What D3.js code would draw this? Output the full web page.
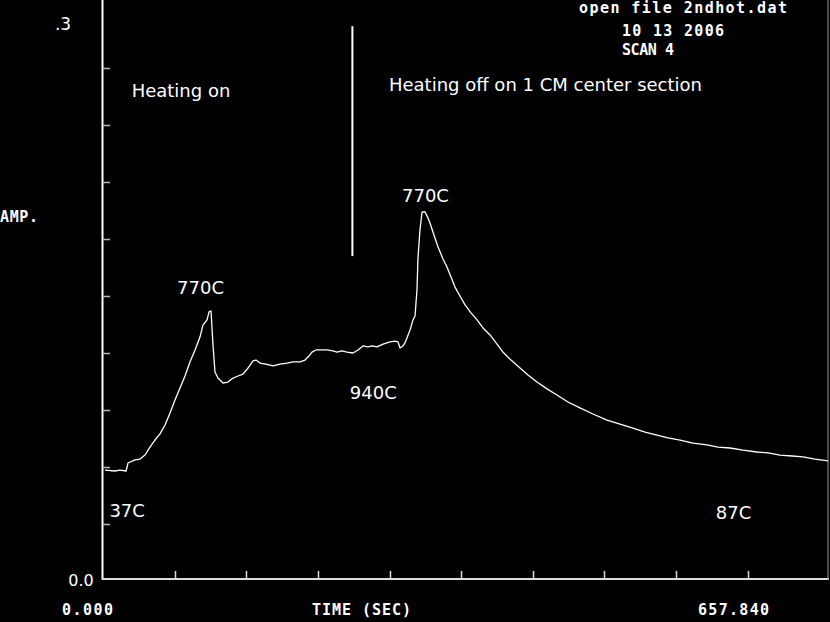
<!DOCTYPE html>
<html><head><meta charset="utf-8">
<script src="https://cdnjs.cloudflare.com/ajax/libs/d3/7.8.5/d3.min.js"></script>
<style>html,body{margin:0;padding:0;background:#000;overflow:hidden}</style>
</head><body>
<svg id="c" width="830" height="622"></svg>
<script>
// time (sec) and amplitude
const times = [1.8,10.9,15.4,20.9,22.7,29.0,33.6,38.1,42.6,47.2,51.7,56.3,60.8,65.3,69.9,74.4,78.9,83.5,88.0,90.7,94.4,96.2,98.0,99.8,101.6,104.3,108.9,113.4,118.0,122.5,127.0,131.6,136.1,138.8,142.5,147.9,154.3,160.6,167.0,172.4,178.8,183.3,186.9,189.6,193.3,196.9,203.3,208.7,212.3,216.9,221.4,226.8,231.4,235.9,240.5,244.1,248.6,254.1,260.4,265.0,267.7,269.5,272.2,274.0,278.6,281.3,283.1,284.9,285.8,287.6,289.5,292.2,294.9,296.7,300.3,304.0,308.5,312.1,315.8,319.4,323.9,328.5,333.9,339.4,344.8,351.2,357.5,362.9,370.2,378.4,385.6,393.8,402.9,411.9,421.9,432.8,444.6,457.3,469.1,480.9,491.8,502.7,512.7,523.6,535.3,548.1,558.0,568.9,580.7,593.4,603.4,614.3,625.2,635.2,646.0,657.8];
const amps = [.0584,.0579,.0584,.0579,.0621,.0637,.0642,.0663,.0705,.0742,.0774,.0821,.0884,.0953,.1016,.1079,.1153,.1216,.1284,.1347,.1374,.1416,.1421,.1242,.1100,.1068,.1042,.1047,.1068,.1079,.1089,.1121,.1158,.1163,.1147,.1142,.1132,.1142,.1147,.1153,.1153,.1163,.1184,.1205,.1216,.1216,.1216,.1211,.1205,.1211,.1205,.1200,.1216,.1237,.1232,.1237,.1232,.1247,.1258,.1263,.1258,.1226,.1237,.1253,.1321,.1374,.1395,.1532,.1700,.1847,.1942,.1942,.1911,.1884,.1821,.1758,.1695,.1653,.1600,.1547,.1500,.1453,.1411,.1374,.1332,.1295,.1247,.1205,.1163,.1121,.1084,.1047,.1011,.0979,.0942,.0911,.0879,.0847,.0826,.0805,.0784,.0768,.0753,.0742,.0726,.0716,.0705,.0700,.0689,.0679,.0674,.0663,.0658,.0653,.0642,.0632];
const xTicks = [65,130,195,260,325,390,455,520,585];
const yTicks = [0.03,0.06,0.09,0.12,0.15,0.18,0.21,0.24,0.27];
const xEndLabels = ["0.000","657.840"];
const yEndLabels = ["0.0",".3"];
const headerLines = ["open file 2ndhot.dat","10 13 2006","SCAN 4"];
const notes = [
  {text:"Heating on", t:26, a:0.2547},
  {text:"Heating off on 1 CM center section", t:259.5, a:0.2579},
  {text:"770C", t:67.2, a:0.1511},
  {text:"770C", t:271.3, a:0.1995},
  {text:"940C", t:224, a:0.0958},
  {text:"37C", t:5.8, a:0.0337},
  {text:"87C", t:556, a:0.0326}
];
const markerTime = 226.3;
const markerAmps = [0.171, 0.292];

const svg = d3.select("#c");
svg.append("rect").attr("width",830).attr("height",622).attr("fill","#000");
const x = d3.scaleLinear().domain([0,657.84]).range([103,828]);
const y = d3.scaleLinear().domain([0,0.3]).range([581,11]);
const mono = "'DejaVu Sans Mono', monospace";
const sans = "'DejaVu Sans', sans-serif";

// axes
svg.append("line").attr("x1",102.5).attr("x2",102.5).attr("y1",0).attr("y2",580).attr("stroke","#fff").attr("stroke-width",2);
svg.append("line").attr("x1",102).attr("x2",829).attr("y1",579).attr("y2",579).attr("stroke","#ddd").attr("stroke-width",2);
svg.append("line").attr("x1",828).attr("x2",828).attr("y1",0).attr("y2",580).attr("stroke","#999").attr("stroke-width",1);
svg.selectAll(".yt").data(yTicks).enter().append("line")
  .attr("x1",103).attr("x2",110).attr("y1",d=>Math.round(y(d))+0.5).attr("y2",d=>Math.round(y(d))+0.5)
  .attr("stroke","#bbb").attr("stroke-width",1.5);
svg.selectAll(".xt").data(xTicks).enter().append("line")
  .attr("x1",d=>Math.round(x(d))+0.5).attr("x2",d=>Math.round(x(d))+0.5).attr("y1",578).attr("y2",571)
  .attr("stroke","#ddd").attr("stroke-width",1.5);

// curve
const pts = times.map((t,i)=>[t,amps[i]]);
svg.append("path").datum(pts)
  .attr("d", d3.line().x(d=>x(d[0])).y(d=>y(d[1])))
  .attr("fill","none").attr("stroke","#fff").attr("stroke-width",1.3).attr("stroke-linejoin","round");

// marker line
svg.append("line").attr("x1",x(markerTime)).attr("x2",x(markerTime))
  .attr("y1",y(markerAmps[1])).attr("y2",y(markerAmps[0])).attr("stroke","#fff").attr("stroke-width",2);

// system text (fixed widths)
function sysText(txt,xx,yy,w){
  svg.append("text").attr("x",xx).attr("y",yy).text(txt)
    .attr("fill","#fff").attr("font-family",mono).attr("font-weight","bold").attr("font-size","15px")
    .attr("textLength",w).attr("lengthAdjust","spacing");
}
svg.append("text").attr("x",63).attr("y",30).attr("text-anchor","middle").attr("fill","#fff")
  .attr("font-family",sans).attr("font-size","17px").text(yEndLabels[1]);
svg.append("text").attr("x",81).attr("y",586).attr("text-anchor","middle").attr("fill","#fff")
  .attr("font-family",sans).attr("font-size","16px").text(yEndLabels[0]);
sysText(xEndLabels[0],62,615,51);
sysText(xEndLabels[1],698,615,71);
sysText("TIME (SEC)",312,615,99);
sysText("AMP.",0,222,38);
sysText(headerLines[0],579,13,208);
sysText(headerLines[1],622,36,102);
sysText(headerLines[2],622,55,52);

// annotations
svg.selectAll(".note").data(notes).enter().append("text")
  .attr("x",d=>x(d.t)).attr("y",d=>y(d.a))
  .attr("fill","#fff").attr("font-family",sans).attr("font-size","18px")
  .text(d=>d.text);
</script>
</body></html>
